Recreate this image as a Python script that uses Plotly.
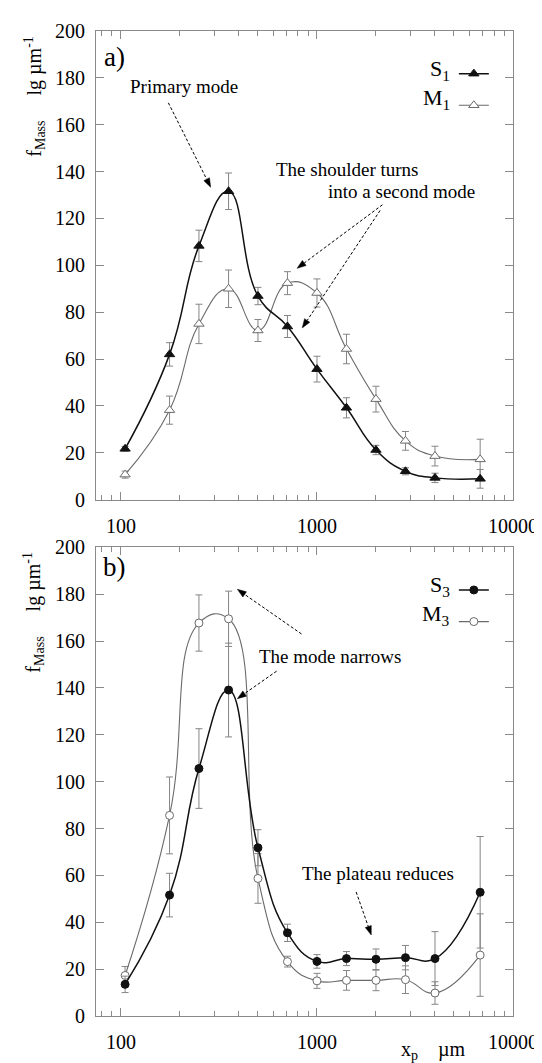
import math
import plotly.graph_objects as go

# ---------------- data ----------------
x_um = [105, 177, 250, 354, 500, 707, 1000, 1414, 2000, 2828, 4000, 6800]

s1 = [21.7, 62.0, 108.3, 131.6, 86.9, 73.9, 55.7, 39.2, 21.2, 12.1, 9.3, 8.9]
s1_err = [1.0, 5.0, 6.7, 7.8, 3.7, 4.7, 5.5, 4.3, 2.0, 1.5, 2.0, 4.0]
m1 = [10.7, 38.2, 75.0, 90.0, 72.2, 92.4, 88.2, 64.3, 42.9, 25.1, 18.6, 17.2]
m1_err = [1.5, 6.0, 8.4, 8.0, 4.7, 4.9, 6.0, 6.3, 5.5, 4.0, 4.2, 8.6]

s3 = [13.5, 51.6, 105.6, 139.1, 71.8, 35.5, 23.3, 24.5, 24.2, 24.9, 24.5, 52.8]
s3_err = [3.5, 9.3, 17.0, 20.0, 7.7, 3.7, 2.9, 3.0, 4.4, 5.2, 11.5, 23.8]
m3 = [17.3, 85.6, 167.7, 169.5, 58.7, 23.2, 15.0, 15.2, 15.2, 15.5, 9.8, 26.0]
m3_err = [3.8, 16.4, 12.0, 11.8, 10.6, 2.3, 3.2, 4.2, 4.4, 5.9, 4.8, 17.6]

x_tickvals = [100, 1000, 10000]
x_ticktext = ["100", "1000", "10000"]

# ---------------- layout geometry ----------------
W, H = 542, 1063
L, R, T, B = 88, 31, 16, 55
PW, PH = W - L - R, H - T - B
FONT = "Liberation Serif"
NB = "\u00a0"


def px(x):
    return (x - L) / PW


def py(y):
    return (H - B - y) / PH


top_dom = [py(488), 1.0]
bot_dom = [0.0, py(536)]

fig = go.Figure()

BLACK = "#111111"
GREY = "#6a6a6a"
ERR = "#858585"


def add_series(xs, ys, es, xa, ya, legend, symbol, filled, dark):
    line_col = BLACK if dark else GREY
    fig.add_trace(go.Scatter(
        x=xs, y=ys, name="", xaxis=xa, yaxis=ya, legend=legend,
        mode="lines+markers", hoverinfo="x+y",
        line=dict(shape="spline", smoothing=1.3, color=line_col,
                  width=1.5 if dark else 1.1),
        marker=dict(symbol=symbol, size=9 if "triangle" in symbol else 8,
                    color=BLACK if filled else "white",
                    line=dict(color=BLACK if filled else GREY, width=1)),
        error_y=dict(type="data", array=es, visible=True, color=ERR,
                     thickness=1, width=3.5),
        showlegend=True,
    ))


add_series(x_um, m1, m1_err, "x", "y", "legend", "triangle-up", False, False)
add_series(x_um, s1, s1_err, "x", "y", "legend", "triangle-up", True, True)
add_series(x_um, m3, m3_err, "x2", "y2", "legend2", "circle", False, False)
add_series(x_um, s3, s3_err, "x2", "y2", "legend2", "circle", True, True)

axis_common = dict(
    showline=True, linecolor="#8a8a8a", linewidth=1, mirror="allticks",
    ticks="inside", tickcolor="#8a8a8a", showgrid=False, zeroline=False,
    tickfont=dict(family=FONT, size=20, color="black"),
)
xaxis_common = dict(
    type="log", range=[math.log10(74.6), 4.0],
    tickvals=x_tickvals, ticktext=x_ticktext, ticklen=8,
    ticklabelstandoff=8,
    minor=dict(ticks="inside", ticklen=5, tickcolor="#8a8a8a", dtick="D1"),
    **axis_common,
)
yaxis_common = dict(range=[0, 200], dtick=20, ticklen=8,
                    ticklabelstandoff=6, **axis_common)

fig.update_layout(
    width=W, height=H,
    margin=dict(l=L, r=R, t=T, b=B),
    paper_bgcolor="white", plot_bgcolor="white",
    font=dict(family=FONT, size=19, color="black"),
    xaxis=dict(domain=[0, 1], anchor="y", **xaxis_common),
    yaxis=dict(domain=top_dom, anchor="x", **yaxis_common),
    xaxis2=dict(domain=[0, 1], anchor="y2", **xaxis_common),
    yaxis2=dict(domain=bot_dom, anchor="x2", **yaxis_common),
    legend=dict(x=px(451), y=py(38), xanchor="left", yanchor="top",
                bgcolor="rgba(0,0,0,0)", font=dict(size=22),
                tracegroupgap=0, traceorder="reversed"),
    legend2=dict(x=px(451), y=py(558), xanchor="left", yanchor="top",
                 bgcolor="rgba(0,0,0,0)", font=dict(size=22),
                 tracegroupgap=0, traceorder="reversed"),
    showlegend=True,
)

annotations = []


def text(t, x, y, size=19, xanchor="center", angle=0):
    annotations.append(dict(
        text=t, x=px(x), y=py(y), xref="paper", yref="paper",
        xanchor=xanchor, yanchor="middle", showarrow=False,
        textangle=angle, font=dict(family=FONT, size=size, color="black"),
    ))


text("a)", 106.7, 42.3, size=27)
text("b)", 106.7, 555.7, size=27)
text("Primary mode", 177.7, 71.7)
text("The shoulder turns", 342.2, 155.5)
text("into a second mode", 397.6, 177.5)
text("The mode narrows", 324.9, 645.8)
text("The plateau reduces", 374.4, 864.0)
text("S<sub>1</sub>", 449, 55.3, size=22, xanchor="right")
text("M<sub>1</sub>", 449, 84.7, size=22, xanchor="right")
text("S<sub>3</sub>", 449, 575.0, size=22, xanchor="right")
text("M<sub>3</sub>", 449, 604.5, size=22, xanchor="right")
ytitle = "f<sub>Mass</sub>" + NB * 5 + "lg µm<sup>-1</sup>"
text(ytitle, 25.3, 82.0, size=20, angle=-90)
text(ytitle, 25.3, 601.6, size=20, angle=-90)
text("x<sub>p</sub>" + NB * 4 + "µm", 430, 1043, size=20)

# dashed arrows: (start x, start y, tip x, tip y) in pixels
arrows = [
    (161.4, 88.3, 204.3, 173.3),
    (378.6, 191.0, 292.0, 255.0),
    (376.2, 196.7, 297.2, 315.0),
    (296.5, 623.3, 231.4, 578.3),
    (271.2, 660.7, 231.4, 688.4),
    (351.9, 883.1, 367.2, 926.4),
]
HEAD_LEN, HEAD_HALF = 9.0, 3.2
shapes = []
for (x0, y0, x1, y1) in arrows:
    dx, dy = x0 - x1, y0 - y1
    d = math.hypot(dx, dy)
    ux, uy = dx / d, dy / d
    bx, by = x1 + ux * HEAD_LEN, y1 + uy * HEAD_LEN
    shapes.append(dict(
        type="line", xref="paper", yref="paper",
        x0=px(x0), y0=py(y0), x1=px(bx), y1=py(by),
        line=dict(color="black", width=1, dash="3px,2px"),
    ))
    p1 = (bx - uy * HEAD_HALF, by + ux * HEAD_HALF)
    p2 = (bx + uy * HEAD_HALF, by - ux * HEAD_HALF)
    path = "M {:.5f} {:.5f} L {:.5f} {:.5f} L {:.5f} {:.5f} Z".format(
        px(x1), py(y1), px(p1[0]), py(p1[1]), px(p2[0]), py(p2[1]))
    shapes.append(dict(
        type="path", xref="paper", yref="paper", path=path,
        fillcolor="black", line=dict(color="black", width=0.5),
    ))

fig.update_layout(annotations=annotations, shapes=shapes)

fig.write_html("out.html")
